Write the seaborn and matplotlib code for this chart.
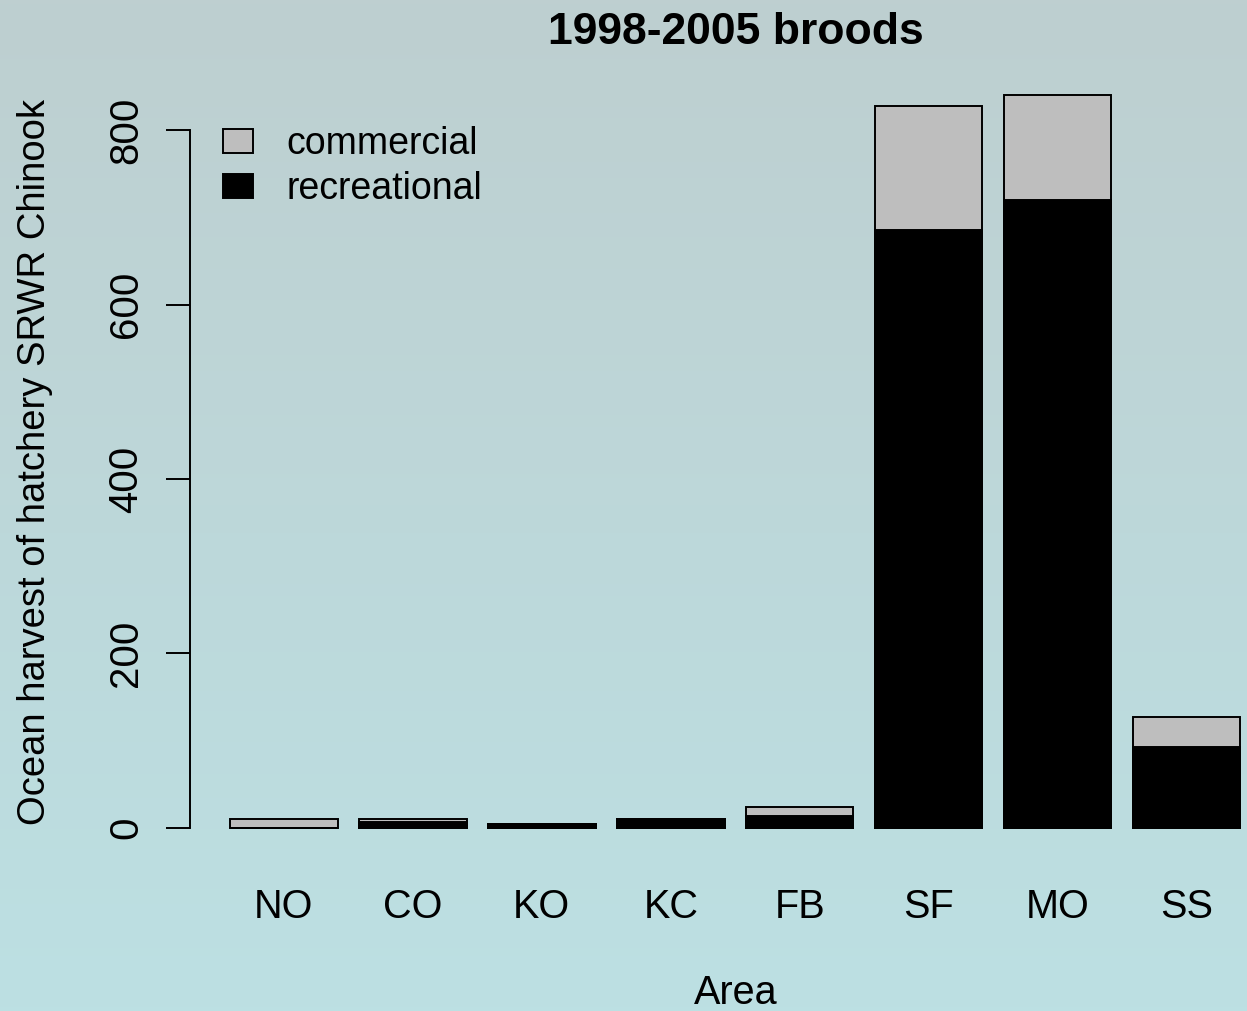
import numpy as np
import pandas as pd
import matplotlib
matplotlib.use("Agg")
import matplotlib.pyplot as plt
from matplotlib.patches import Patch
import seaborn as sns

# values
areas = ["NO", "CO", "KO", "KC", "FB", "SF", "MO", "SS"]
recreational = [0, 7, 5, 10, 14, 685, 720, 93]
commercial = [10, 3, 0, 0, 10, 143, 120, 34]
yticks = [0, 200, 400, 600, 800]

df = pd.DataFrame({"Area": areas, "recreational": recreational, "commercial": commercial})
df["total"] = df["recreational"] + df["commercial"]

sns.set_style("white")
plt.rcParams["font.family"] = ["Liberation Sans", "DejaVu Sans"]
plt.rcParams["text.color"] = "black"
plt.rcParams["axes.labelcolor"] = "black"
plt.rcParams["xtick.color"] = "black"
plt.rcParams["ytick.color"] = "black"

W, H = 1247, 1011
fig = plt.figure(figsize=(W / 100, H / 100), dpi=100)

# gradient background
bg = fig.add_axes([0, 0, 1, 1], zorder=-1)
top = np.array([190, 207, 208]) / 255
bot = np.array([188, 224, 227]) / 255
t = np.linspace(0, 1, 256)[:, None]
grad = (top[None, :] * (1 - t) + bot[None, :] * t)[:, None, :]
bg.imshow(grad, aspect="auto", extent=[0, 1, 0, 1])
bg.axis("off")

# main axes (pixel geometry of the original)
ax_l, ax_r, ax_t, ax_b = 190, 1285.8, 65.8, 857.3
ax = fig.add_axes([ax_l / W, 1 - ax_b / H, (ax_r - ax_l) / W, (ax_b - ax_t) / H])
ax.set_facecolor("none")

bw = 1 / 1.2
sns.barplot(data=df, x="Area", y="total", order=areas, color="#bebebe", saturation=1,
            edgecolor="black", linewidth=1.4, width=bw, errorbar=None, ax=ax)
sns.barplot(data=df, x="Area", y="recreational", order=areas, color="black", saturation=1,
            edgecolor="black", linewidth=1.4, width=bw, errorbar=None, ax=ax)

ax.set_xlim(-0.727, 7.768)
ax.set_ylim(-33.6, 873.6)

for s in ["top", "right", "bottom"]:
    ax.spines[s].set_visible(False)
ax.spines["left"].set_bounds(0, 800)
ax.spines["left"].set_linewidth(1.4)
ax.spines["left"].set_color("black")

ax.set_yticks(yticks, [str(v) for v in yticks])
ax.tick_params(axis="y", length=17.3, width=1.4, pad=20.9, labelsize=29, left=True)
for lab in ax.get_yticklabels():
    lab.set_rotation(90)
    lab.set_rotation_mode("anchor")
    lab.set_ha("center")
    lab.set_va("baseline")

ax.tick_params(axis="x", length=0, pad=43.5, labelsize=28.5)
for lab in ax.get_xticklabels():
    lab.set_va("baseline")

ax_w = ax_r - ax_l
ax_h = ax_b - ax_t
ax.set_ylabel("Ocean harvest of hatchery SRWR Chinook", fontsize=27.5, va="baseline")
ax.yaxis.set_label_coords((45 - ax_l) / ax_w, 0.5)
ax.set_xlabel("Area", fontsize=28.5, va="baseline")
ax.xaxis.set_label_coords((736 - ax_l) / ax_w, (ax_b - 1004) / ax_h)

ax.set_title("1998-2005 broods", fontsize=32, fontweight="bold", va="baseline",
             x=(736 - ax_l) / ax_w, y=(ax_b - 44) / ax_h, pad=0)

handles = [Patch(facecolor="#bebebe", edgecolor="black", linewidth=1.4, label="commercial"),
           Patch(facecolor="black", edgecolor="black", linewidth=1.4, label="recreational")]
ax.legend(handles=handles, loc="upper left",
          bbox_to_anchor=((223 - ax_l) / ax_w, (ax_b - 126) / ax_h),
          frameon=False, borderpad=0, borderaxespad=0, fontsize=27,
          handlelength=0.8, handleheight=0.61, handletextpad=0.9, labelspacing=0.25)

fig.savefig("out.png", dpi=100)
